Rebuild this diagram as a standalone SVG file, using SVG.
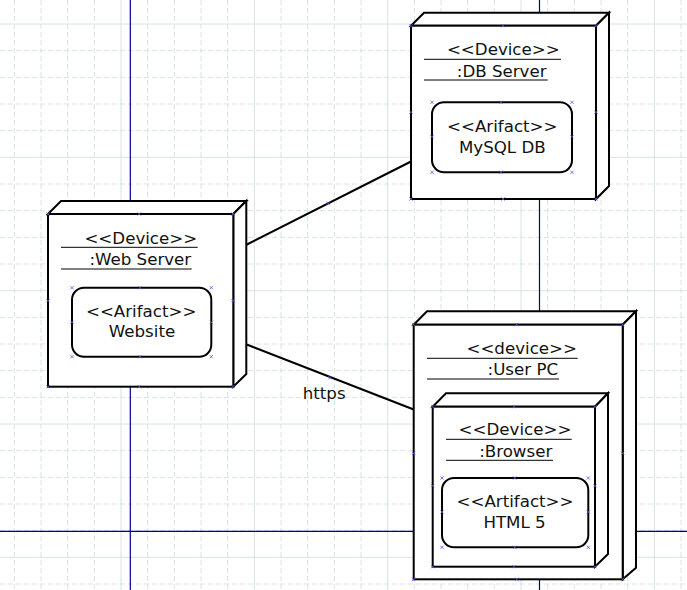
<svg xmlns="http://www.w3.org/2000/svg" xmlns:xlink="http://www.w3.org/1999/xlink" width="687" height="590" viewBox="0 0 687 590">
<style>
.minor{stroke:#d6e4e1;stroke-width:1;stroke-dasharray:5,3;fill:none}
.major{stroke:#d6e4e1;stroke-width:1;fill:none}
.box{fill:#ffffff;stroke:#000000;stroke-width:2;stroke-linejoin:miter}
.art{fill:#ffffff;stroke:#000000;stroke-width:2}
.ul{stroke:#000000;stroke-width:1}
.conn{stroke:#000000;stroke-width:2;fill:none}
text{font-family:"DejaVu Sans","Liberation Sans",sans-serif;font-size:16.67px;fill:#111111;text-anchor:middle}
.mk{stroke:#5555ee;stroke-width:0.8;fill:none}
</style>
<defs>
<path id="mk" class="mk" d="M-1.6,-1.6L1.6,1.6M-1.6,1.6L1.6,-1.6"/>
</defs>
<rect x="0" y="0" width="687" height="590" fill="#ffffff"/>
<g id="grid">
<path class="minor" d="M14.33 0V590M41 0V590M67.67 0V590M94.33 0V590M147.67 0V590M174.33 0V590M201 0V590M227.67 0V590M281 0V590M307.67 0V590M334.33 0V590M361 0V590M414.33 0V590M441 0V590M467.67 0V590M494.33 0V590M547.67 0V590M574.33 0V590M601 0V590M627.67 0V590M681 0V590"/>
<path class="minor" d="M0 50.67H687M0 77.33H687M0 104H687M0 130.67H687M0 184H687M0 210.67H687M0 237.33H687M0 264H687M0 317.33H687M0 344H687M0 370.67H687M0 397.33H687M0 450.67H687M0 477.33H687M0 504H687M0 530.67H687M0 584H687"/>
<path class="major" d="M121 0V590M254.33 0V590M387.67 0V590M521 0V590M654.33 0V590M0 24H687M0 157.33H687M0 290.67H687M0 424H687M0 557.33H687"/>
</g>
<g id="axes">
<line x1="130.3" y1="0" x2="130.3" y2="590" stroke="#0000a0" stroke-width="1.2"/>
<line x1="539.5" y1="0" x2="539.5" y2="590" stroke="#000088" stroke-width="1.2"/>
<line x1="0" y1="531.3" x2="687" y2="531.3" stroke="#000088" stroke-width="1.2"/>
</g>
<g id="connectors">
<line class="conn" x1="246" y1="245" x2="411" y2="161.5"/>
<line class="conn" x1="246" y1="344.3" x2="413.7" y2="409.5"/>
<text x="324.2" y="399.3">https</text>
<use xlink:href="#mk" x="328" y="203.3"/>
<use xlink:href="#mk" x="330" y="377.7"/>
</g>
<g id="db-server">
<polygon class="box" points="411,25.7 424,12.7 609,12.7 596,25.7"/>
<polygon class="box" points="596,25.7 609,12.7 609,186 596,199"/>
<rect class="box" x="411" y="25.7" width="185" height="173.3"/>
<text x="503.3" y="55">&lt;&lt;Device&gt;&gt;</text>
<line class="ul" x1="424" y1="59.3" x2="561" y2="59.3"/>
<text x="501.7" y="76.7">:DB Server</text>
<line class="ul" x1="424" y1="80" x2="547.7" y2="80"/>
<g id="mysql-db">
<rect class="art" x="432" y="102.3" width="140" height="70" rx="12"/>
<text x="502.3" y="131.7">&lt;&lt;Arifact&gt;&gt;</text>
<text x="502.3" y="152.7">MySQL DB</text>
</g>
<use xlink:href="#mk" x="411" y="25.7"/><use xlink:href="#mk" x="503" y="25.7"/><use xlink:href="#mk" x="596" y="25.7"/>
<use xlink:href="#mk" x="411" y="112.3"/><use xlink:href="#mk" x="596" y="112.3"/>
<use xlink:href="#mk" x="411" y="199"/><use xlink:href="#mk" x="503" y="199"/><use xlink:href="#mk" x="596" y="199"/>
<use xlink:href="#mk" x="432" y="102.3"/><use xlink:href="#mk" x="501" y="102.3"/><use xlink:href="#mk" x="572" y="102.3"/>
<use xlink:href="#mk" x="432" y="136.7"/><use xlink:href="#mk" x="572" y="136.7"/>
<use xlink:href="#mk" x="432" y="172.3"/><use xlink:href="#mk" x="501" y="172.3"/><use xlink:href="#mk" x="572" y="172.3"/>
</g>
<g id="web-server">
<polygon class="box" points="48,214 61,201 246.3,201 233.3,214"/>
<polygon class="box" points="233.3,214 246.3,201 246.3,374 233.3,386.7"/>
<rect class="box" x="48" y="214" width="185.3" height="172.7"/>
<text x="140.8" y="244">&lt;&lt;Device&gt;&gt;</text>
<line class="ul" x1="61" y1="247.3" x2="197.7" y2="247.3"/>
<text x="140.3" y="265">:Web Server</text>
<line class="ul" x1="61" y1="269" x2="191.7" y2="269"/>
<g id="website">
<rect class="art" x="72" y="287.7" width="139.3" height="69" rx="12"/>
<text x="141.2" y="316.7">&lt;&lt;Arifact&gt;&gt;</text>
<text x="142" y="337.3">Website</text>
</g>
<use xlink:href="#mk" x="48" y="214"/><use xlink:href="#mk" x="139.3" y="214"/><use xlink:href="#mk" x="233" y="214"/>
<use xlink:href="#mk" x="48" y="300.7"/><use xlink:href="#mk" x="233" y="300.7"/>
<use xlink:href="#mk" x="48" y="386.7"/><use xlink:href="#mk" x="139.3" y="386.7"/><use xlink:href="#mk" x="233" y="386.7"/>
<use xlink:href="#mk" x="72" y="287.7"/><use xlink:href="#mk" x="140" y="287.7"/><use xlink:href="#mk" x="211.3" y="287.7"/>
<use xlink:href="#mk" x="72" y="322.3"/><use xlink:href="#mk" x="211.3" y="322.3"/>
<use xlink:href="#mk" x="72" y="356.7"/><use xlink:href="#mk" x="140" y="356.7"/><use xlink:href="#mk" x="211.3" y="356.7"/>
</g>
<g id="user-pc">
<polygon class="box" points="413.7,324.7 427,311.3 636,311.3 622.7,324.7"/>
<polygon class="box" points="622.7,324.7 636,311.3 636,567.7 622.7,579.3"/>
<rect class="box" x="413.7" y="324.7" width="209" height="254.6"/>
<text x="521.7" y="354">&lt;&lt;device&gt;&gt;</text>
<line class="ul" x1="427" y1="358.3" x2="577.7" y2="358.3"/>
<text x="522.8" y="375">:User PC</text>
<line class="ul" x1="427" y1="379" x2="559" y2="379"/>
<use xlink:href="#mk" x="413.7" y="324.7"/><use xlink:href="#mk" x="516.7" y="324.7"/><use xlink:href="#mk" x="622.7" y="324.7"/>
<use xlink:href="#mk" x="413.7" y="453.3"/><use xlink:href="#mk" x="622.7" y="453.3"/>
<use xlink:href="#mk" x="413.7" y="579.3"/><use xlink:href="#mk" x="516.7" y="579.3"/><use xlink:href="#mk" x="622.7" y="579.3"/>
<g id="browser">
<polygon class="box" points="432.7,406.7 446,393.3 608,393.3 595,406.7"/>
<polygon class="box" points="595,406.7 608,393.3 608,554 595,566.7"/>
<rect class="box" x="432.7" y="406.7" width="162.3" height="160"/>
<text x="515" y="435">&lt;&lt;Device&gt;&gt;</text>
<line class="ul" x1="446" y1="439.3" x2="571.7" y2="439.3"/>
<text x="515.7" y="457">:Browser</text>
<line class="ul" x1="446" y1="460.3" x2="553" y2="460.3"/>
<g id="html5">
<rect class="art" x="442" y="478" width="146.3" height="69.3" rx="12"/>
<text x="515" y="507">&lt;&lt;Artifact&gt;&gt;</text>
<text x="514.5" y="528.3">HTML 5</text>
</g>
<use xlink:href="#mk" x="432.7" y="406.7"/><use xlink:href="#mk" x="514" y="406.7"/><use xlink:href="#mk" x="595" y="406.7"/>
<use xlink:href="#mk" x="432.7" y="485.7"/><use xlink:href="#mk" x="595" y="485.7"/>
<use xlink:href="#mk" x="432.7" y="566.7"/><use xlink:href="#mk" x="514" y="566.7"/><use xlink:href="#mk" x="595" y="566.7"/>
<use xlink:href="#mk" x="442" y="478"/><use xlink:href="#mk" x="514.7" y="478"/><use xlink:href="#mk" x="588.3" y="478"/>
<use xlink:href="#mk" x="442" y="512"/><use xlink:href="#mk" x="588.3" y="512"/>
<use xlink:href="#mk" x="442" y="547.3"/><use xlink:href="#mk" x="514.7" y="547.3"/><use xlink:href="#mk" x="588.3" y="547.3"/>
</g>
</g>
</svg>
